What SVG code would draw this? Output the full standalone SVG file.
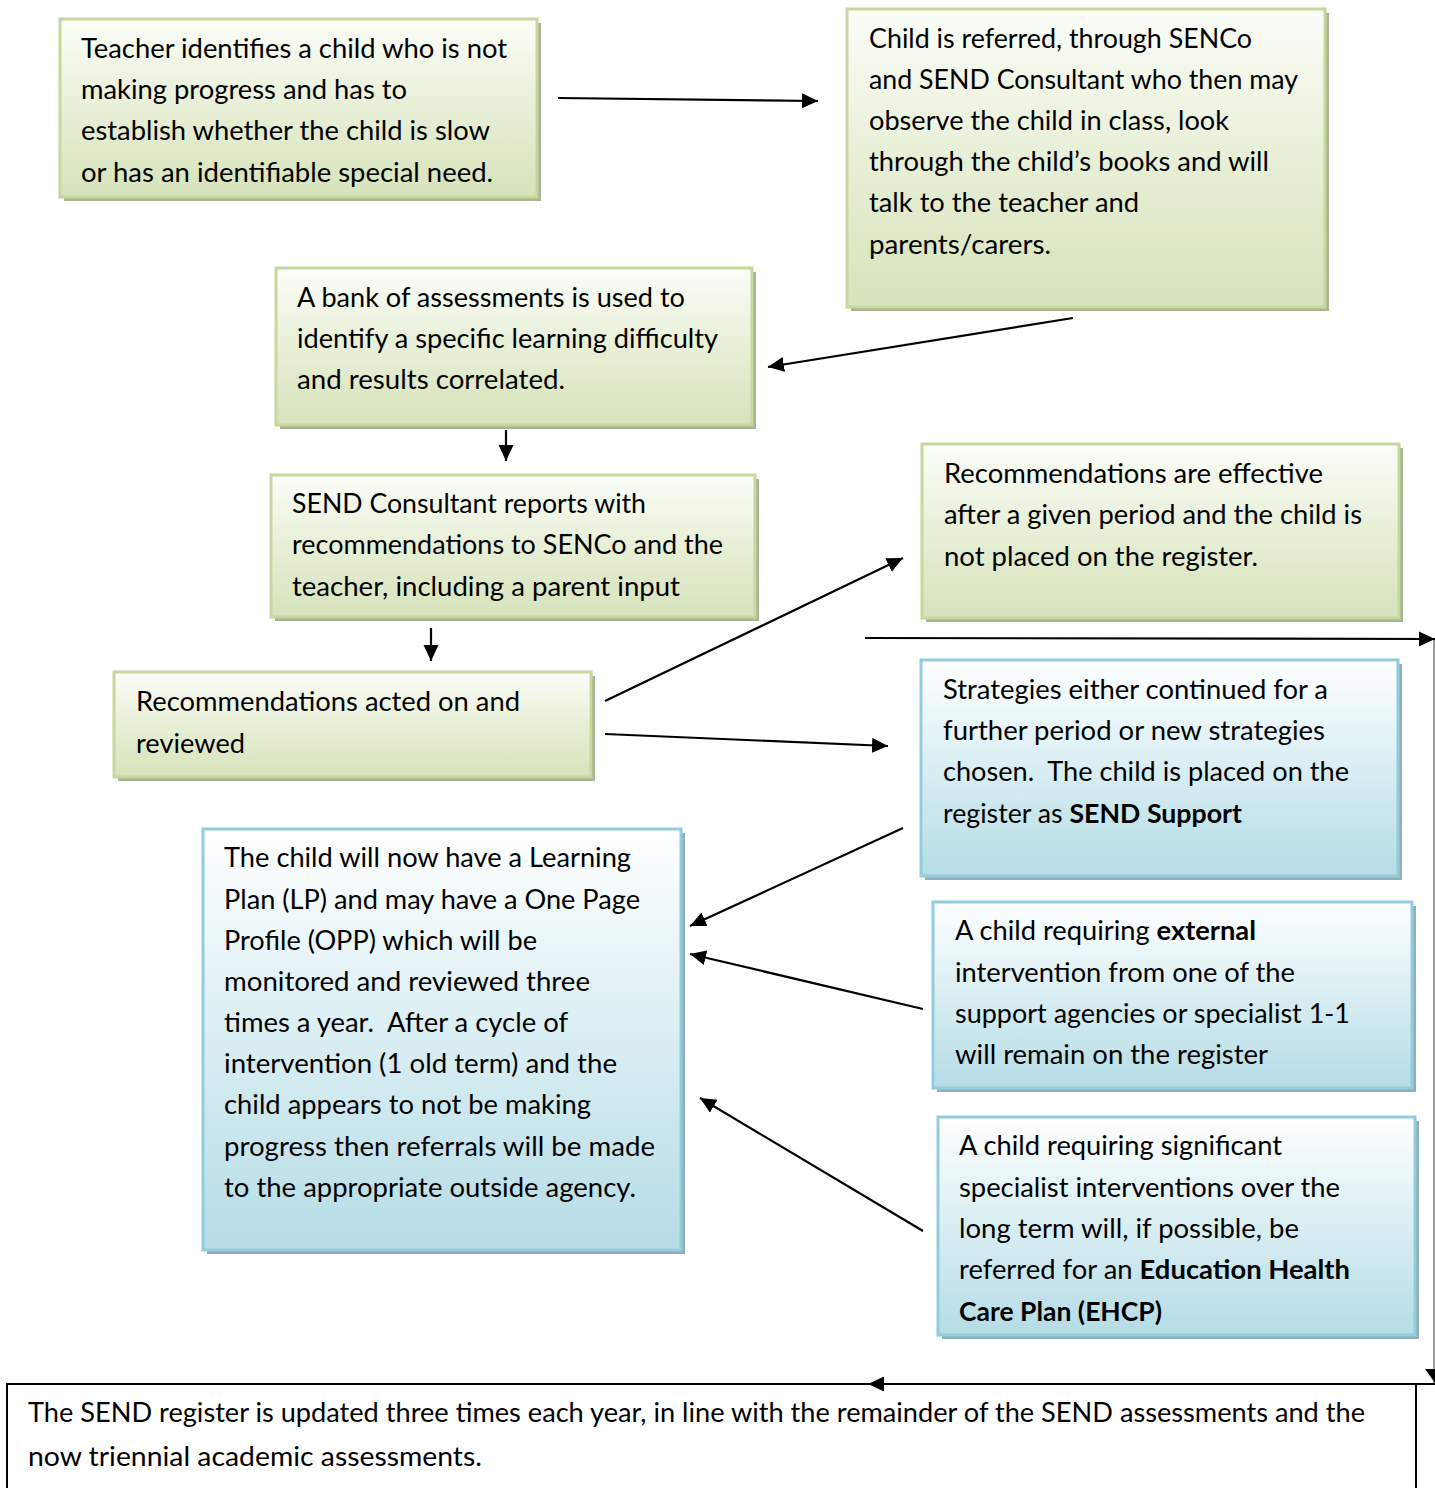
<svg xmlns="http://www.w3.org/2000/svg" width="1435" height="1488" viewBox="0 0 1435 1488">
<defs>
<linearGradient id="gGreen" x1="0" y1="0" x2="0" y2="1">
<stop offset="0" stop-color="#fbfdf8"/>
<stop offset="0.55" stop-color="#e6eed4"/>
<stop offset="1" stop-color="#d6e3bb"/>
</linearGradient>
<linearGradient id="gBlue" x1="0" y1="0" x2="0" y2="1">
<stop offset="0" stop-color="#ffffff"/>
<stop offset="0.5" stop-color="#d9eef3"/>
<stop offset="1" stop-color="#b5dce6"/>
</linearGradient>
<marker id="ah" markerUnits="userSpaceOnUse" markerWidth="18" markerHeight="16" refX="16" refY="7.5" orient="auto">
<path d="M0,0 L16,7.5 L0,15 z" fill="#000"/>
</marker>
</defs>
<style>
.sg{fill:#a7b594}
.sb{fill:#8fb0ba}
.bg{fill:url(#gGreen);stroke:#c5d89e;stroke-width:3}
.bb{fill:url(#gBlue);stroke:#93cddd;stroke-width:3}
text{font-family:Lato,"Liberation Sans",sans-serif;font-size:26px;fill:#000}
.b{font-weight:bold}
.ca{stroke:#000;stroke-width:2.2;fill:none;marker-end:url(#ah)}
</style>

<g id="n1">
<rect class="sg" x="64" y="23" width="477" height="178"/>
<rect class="bg" x="60" y="19" width="477" height="178"/>
<text x="81" y="58" textLength="426" lengthAdjust="spacingAndGlyphs">Teacher identifies a child who is not</text>
<text x="81" y="99" textLength="326" lengthAdjust="spacingAndGlyphs">making progress and has to</text>
<text x="81" y="140" textLength="409" lengthAdjust="spacingAndGlyphs">establish whether the child is slow</text>
<text x="81" y="182" textLength="412" lengthAdjust="spacingAndGlyphs">or has an identifiable special need.</text>
</g>

<g id="n2">
<rect class="sg" x="851" y="13" width="478" height="298"/>
<rect class="bg" x="847" y="9" width="478" height="298"/>
<text x="869" y="48" textLength="383" lengthAdjust="spacingAndGlyphs">Child is referred, through SENCo</text>
<text x="869" y="89" textLength="429" lengthAdjust="spacingAndGlyphs">and SEND Consultant who then may</text>
<text x="869" y="130" textLength="360" lengthAdjust="spacingAndGlyphs">observe the child in class, look</text>
<text x="869" y="171" textLength="400" lengthAdjust="spacingAndGlyphs">through the child’s books and will</text>
<text x="869" y="212" textLength="270" lengthAdjust="spacingAndGlyphs">talk to the teacher and</text>
<text x="869" y="254" textLength="182" lengthAdjust="spacingAndGlyphs">parents/carers.</text>
</g>

<g id="n3">
<rect class="sg" x="280" y="272" width="476" height="157"/>
<rect class="bg" x="276" y="268" width="476" height="157"/>
<text x="297" y="307" textLength="388" lengthAdjust="spacingAndGlyphs">A bank of assessments is used to</text>
<text x="297" y="348" textLength="421" lengthAdjust="spacingAndGlyphs">identify a specific learning difficulty</text>
<text x="297" y="389" textLength="268" lengthAdjust="spacingAndGlyphs">and results correlated.</text>
</g>

<g id="n4">
<rect class="sg" x="275" y="479" width="484" height="142"/>
<rect class="bg" x="271" y="475" width="484" height="142"/>
<text x="292" y="513" textLength="354" lengthAdjust="spacingAndGlyphs">SEND Consultant reports with</text>
<text x="292" y="554" textLength="431" lengthAdjust="spacingAndGlyphs">recommendations to SENCo and the</text>
<text x="292" y="596" textLength="388" lengthAdjust="spacingAndGlyphs">teacher, including a parent input</text>
</g>

<g id="n5">
<rect class="sg" x="118" y="676" width="477" height="105"/>
<rect class="bg" x="114" y="672" width="477" height="105"/>
<text x="136" y="711" textLength="384" lengthAdjust="spacingAndGlyphs">Recommendations acted on and</text>
<text x="136" y="753" textLength="109" lengthAdjust="spacingAndGlyphs">reviewed</text>
</g>

<g id="n6">
<rect class="sg" x="926" y="448" width="477" height="174"/>
<rect class="bg" x="922" y="444" width="477" height="174"/>
<text x="944" y="483" textLength="379" lengthAdjust="spacingAndGlyphs">Recommendations are effective</text>
<text x="944" y="524" textLength="418" lengthAdjust="spacingAndGlyphs">after a given period and the child is</text>
<text x="944" y="566" textLength="314" lengthAdjust="spacingAndGlyphs">not placed on the register.</text>
</g>

<g id="n7">
<rect class="sb" x="925" y="664" width="477" height="216"/>
<rect class="bb" x="921" y="660" width="477" height="216"/>
<text x="943" y="699" textLength="385" lengthAdjust="spacingAndGlyphs">Strategies either continued for a</text>
<text x="943" y="740" textLength="382" lengthAdjust="spacingAndGlyphs">further period or new strategies</text>
<text x="943" y="781" textLength="406" lengthAdjust="spacingAndGlyphs">chosen.&#160; The child is placed on the</text>
<text x="943" y="823" textLength="299" lengthAdjust="spacingAndGlyphs">register as <tspan class="b">SEND Support</tspan></text>
</g>

<g id="n8">
<rect class="sb" x="207" y="833" width="478" height="421"/>
<rect class="bb" x="203" y="829" width="478" height="421"/>
<text x="224" y="867" textLength="407" lengthAdjust="spacingAndGlyphs">The child will now have a Learning</text>
<text x="224" y="909" textLength="416" lengthAdjust="spacingAndGlyphs">Plan (LP) and may have a One Page</text>
<text x="224" y="950" textLength="313" lengthAdjust="spacingAndGlyphs">Profile (OPP) which will be</text>
<text x="224" y="991" textLength="366" lengthAdjust="spacingAndGlyphs">monitored and reviewed three</text>
<text x="224" y="1032" textLength="344" lengthAdjust="spacingAndGlyphs">times a year.&#160; After a cycle of</text>
<text x="224" y="1073" textLength="393" lengthAdjust="spacingAndGlyphs">intervention (1 old term) and the</text>
<text x="224" y="1114" textLength="367" lengthAdjust="spacingAndGlyphs">child appears to not be making</text>
<text x="224" y="1156" textLength="431" lengthAdjust="spacingAndGlyphs">progress then referrals will be made</text>
<text x="224" y="1197" textLength="412" lengthAdjust="spacingAndGlyphs">to the appropriate outside agency.</text>
</g>

<g id="n9">
<rect class="sb" x="937" y="906" width="479" height="186"/>
<rect class="bb" x="933" y="902" width="479" height="186"/>
<text x="955" y="940" textLength="301" lengthAdjust="spacingAndGlyphs">A child requiring <tspan class="b">external</tspan></text>
<text x="955" y="982" textLength="340" lengthAdjust="spacingAndGlyphs">intervention from one of the</text>
<text x="955" y="1023" textLength="395" lengthAdjust="spacingAndGlyphs">support agencies or specialist 1-1</text>
<text x="955" y="1064" textLength="313" lengthAdjust="spacingAndGlyphs">will remain on the register</text>
</g>

<g id="n10">
<rect class="sb" x="942" y="1121" width="477" height="218"/>
<rect class="bb" x="938" y="1117" width="477" height="218"/>
<text x="959" y="1155" textLength="323" lengthAdjust="spacingAndGlyphs">A child requiring significant</text>
<text x="959" y="1197" textLength="381" lengthAdjust="spacingAndGlyphs">specialist interventions over the</text>
<text x="959" y="1238" textLength="340" lengthAdjust="spacingAndGlyphs">long term will, if possible, be</text>
<text x="959" y="1279" textLength="391" lengthAdjust="spacingAndGlyphs">referred for an <tspan class="b">Education Health</tspan></text>
<text x="959" y="1321" class="b" textLength="203" lengthAdjust="spacingAndGlyphs">Care Plan (EHCP)</text>
</g>

<g id="n11">
<rect x="7" y="1384" width="1409" height="120" fill="#fff" stroke="#000" stroke-width="2"/>
<text x="28" y="1422" textLength="1337" lengthAdjust="spacingAndGlyphs">The SEND register is updated three times each year, in line with the remainder of the SEND assessments and the</text>
<text x="28" y="1466" textLength="454" lengthAdjust="spacingAndGlyphs">now triennial academic assessments.</text>
</g>

<g id="connectors">
<line class="ca" x1="558" y1="98" x2="818" y2="101"/>
<line class="ca" x1="1073" y1="318" x2="768" y2="367"/>
<line class="ca" x1="506" y1="430" x2="506" y2="461"/>
<line class="ca" x1="431" y1="628" x2="431" y2="661"/>
<line class="ca" x1="605" y1="701" x2="903" y2="558"/>
<line class="ca" x1="605" y1="734" x2="888" y2="746"/>
<line class="ca" x1="865" y1="638" x2="1435" y2="639"/>
<line x1="1434" y1="640" x2="1434" y2="1384" stroke="#555" stroke-width="1.2"/>
<path d="M1425,1369 L1435,1369 L1435,1383 z" fill="#000"/>
<line class="ca" x1="1435" y1="1384" x2="868" y2="1384"/>
<line class="ca" x1="903" y1="828" x2="690" y2="926"/>
<line class="ca" x1="923" y1="1009" x2="690" y2="954"/>
<line class="ca" x1="923" y1="1231" x2="700" y2="1098"/>
</g>
</svg>
